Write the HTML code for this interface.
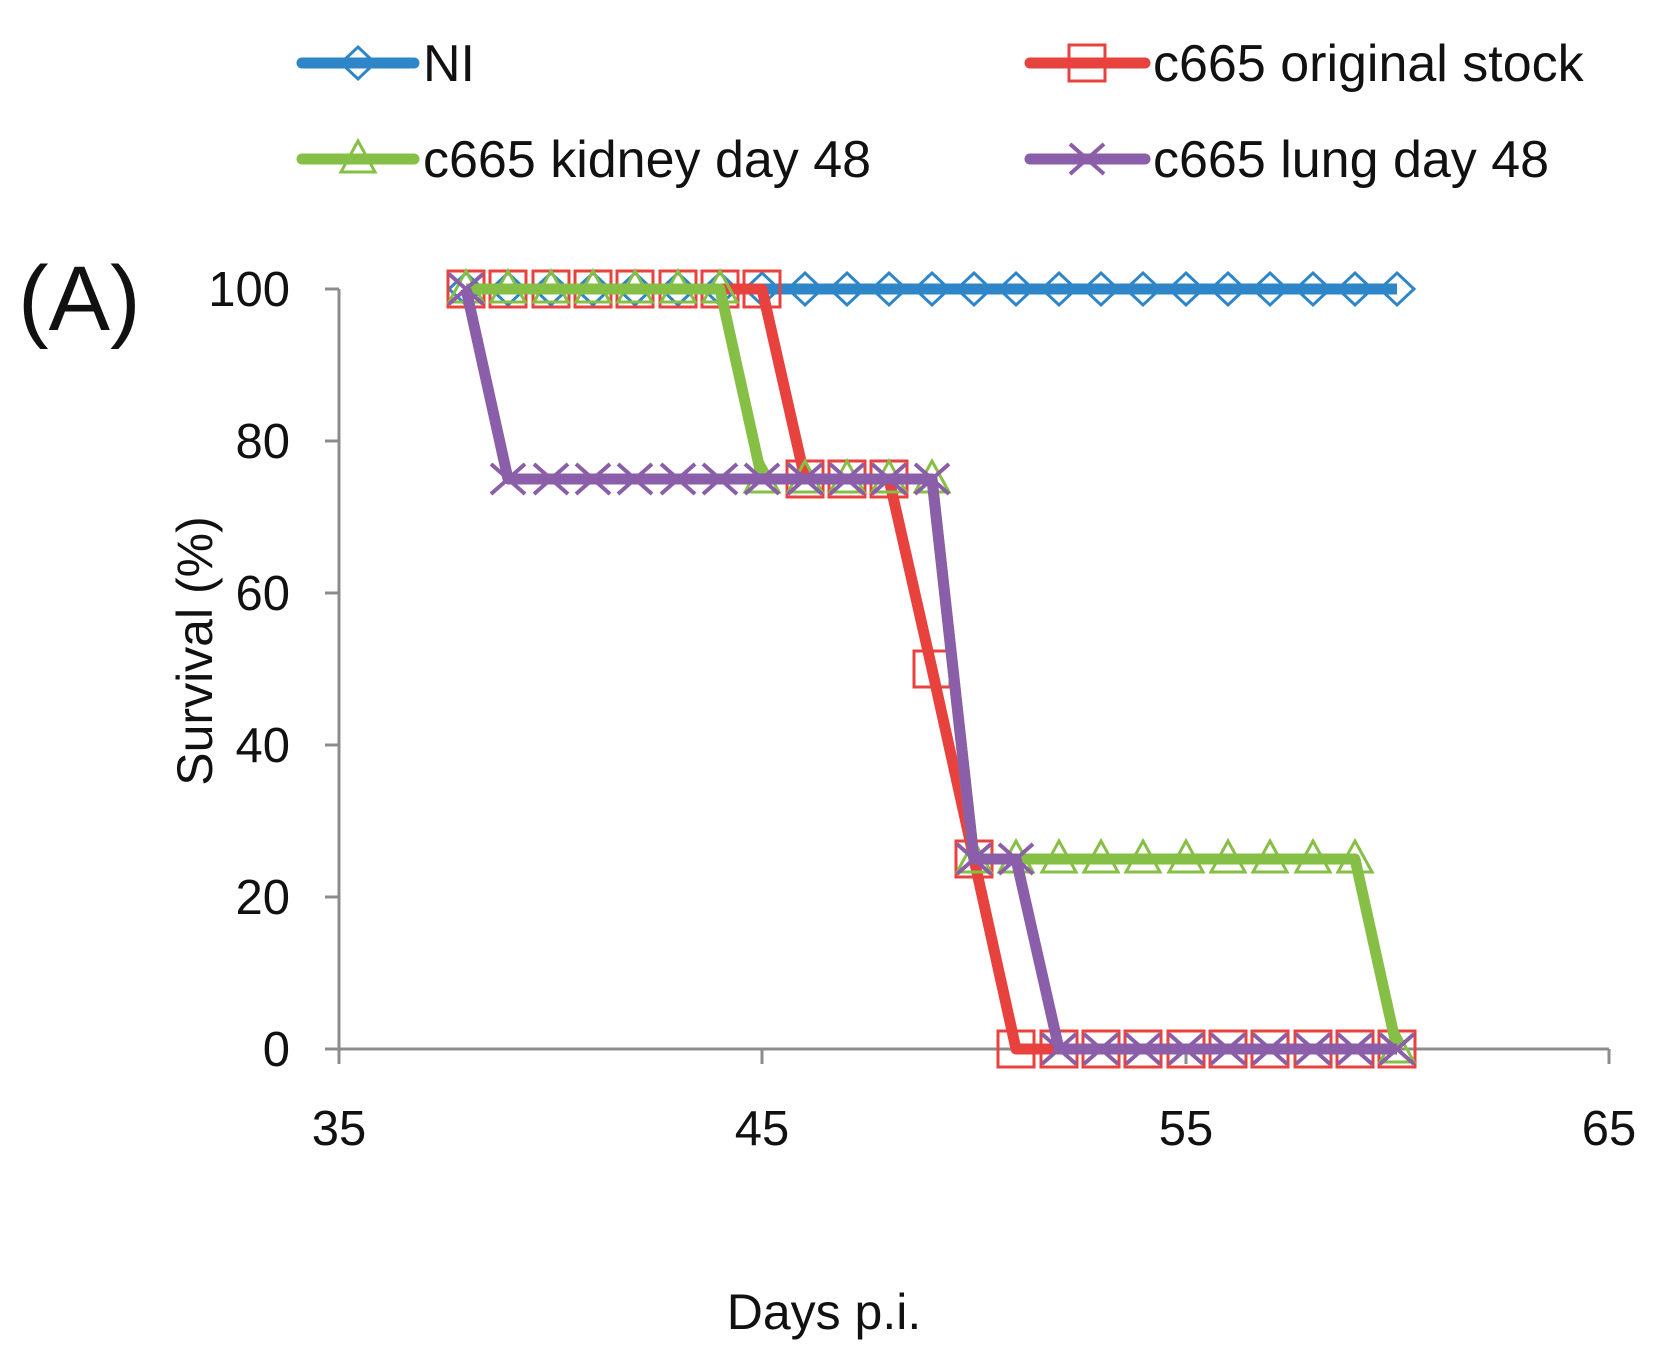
<!DOCTYPE html>
<html><head><meta charset="utf-8"><style>body{margin:0;background:#fff}svg{display:block}text{font-family:"Liberation Sans",sans-serif;fill:#111}</style></head><body>
<svg width="1669" height="1351" viewBox="0 0 1669 1351" xmlns="http://www.w3.org/2000/svg">
<defs>
<path id="dm" d="M0,-16 L17,0 L0,16 L-17,0 Z" fill="none" stroke="#2e86c8" stroke-width="3"/>
<rect id="sq" x="-18" y="-18" width="36" height="36" fill="none" stroke="#e8423f" stroke-width="3"/>
<path id="tr" d="M0,-18 L17,13 L-17,13 Z" fill="none" stroke="#86bf45" stroke-width="3"/>
<path id="xx" d="M-17,-15 L17,15 M-17,15 L17,-15" fill="none" stroke="#8a5ea8" stroke-width="4"/>
</defs>
<g stroke="#8c8c8c" stroke-width="3" fill="none">
<path d="M339,289 V1049 H1609"/>
<path d="M325,289 H339 M325,441 H339 M325,593 H339 M325,745 H339 M325,897 H339 M325,1049 H339"/>
<path d="M339,1049 V1064 M762,1049 V1064 M1186,1049 V1064 M1609,1049 V1064"/>
</g>
<g font-size="49" text-anchor="end">
<text x="290" y="306">100</text><text x="290" y="458">80</text><text x="290" y="610">60</text><text x="290" y="762">40</text><text x="290" y="914">20</text><text x="290" y="1066">0</text>
</g>
<g font-size="49" text-anchor="middle">
<text x="339" y="1145">35</text><text x="762" y="1145">45</text><text x="1186" y="1145">55</text><text x="1609" y="1145">65</text>
</g>
<text x="824" y="1329" font-size="50" text-anchor="middle">Days p.i.</text>
<text transform="translate(212,651) rotate(-90)" font-size="50" text-anchor="middle">Survival (%)</text>
<text x="18" y="330" font-size="92">(A)</text>
<g stroke-width="11" fill="none" stroke-linecap="round">
<path d="M302,63 H414" stroke="#2e86c8"/>
<path d="M1030,63 H1145" stroke="#e8423f"/>
<path d="M302,159 H414" stroke="#86bf45"/>
<path d="M1030,159 H1145" stroke="#8a5ea8"/>
</g>
<use href="#dm" x="358" y="63"/><use href="#sq" x="1087" y="63"/><use href="#tr" x="358" y="159"/><use href="#xx" x="1087" y="159"/>
<g font-size="52"><text x="423" y="81">NI</text><text x="1153" y="81">c665 original stock</text><text x="423" y="177">c665 kidney day 48</text><text x="1153" y="177">c665 lung day 48</text></g>
<path d="M466,289 H1397" stroke="#2e86c8" stroke-width="11" fill="none"/>
<g>
<use href="#dm" x="466" y="289"/><use href="#dm" x="508" y="289"/><use href="#dm" x="551" y="289"/><use href="#dm" x="593" y="289"/><use href="#dm" x="635" y="289"/><use href="#dm" x="678" y="289"/><use href="#dm" x="720" y="289"/><use href="#dm" x="762" y="289"/><use href="#dm" x="805" y="289"/><use href="#dm" x="847" y="289"/><use href="#dm" x="889" y="289"/><use href="#dm" x="932" y="289"/><use href="#dm" x="974" y="289"/><use href="#dm" x="1016" y="289"/><use href="#dm" x="1059" y="289"/><use href="#dm" x="1101" y="289"/><use href="#dm" x="1143" y="289"/><use href="#dm" x="1186" y="289"/><use href="#dm" x="1228" y="289"/><use href="#dm" x="1270" y="289"/><use href="#dm" x="1313" y="289"/><use href="#dm" x="1355" y="289"/><use href="#dm" x="1397" y="289"/>
</g>
<polyline points="466,289 762,289 805,479 889,479 932,669 974,859 1016,1049 1397,1049" stroke="#e8423f" stroke-width="11" fill="none" stroke-linejoin="round"/>
<g>
<use href="#sq" x="466" y="289"/><use href="#sq" x="508" y="289"/><use href="#sq" x="551" y="289"/><use href="#sq" x="593" y="289"/><use href="#sq" x="635" y="289"/><use href="#sq" x="678" y="289"/><use href="#sq" x="720" y="289"/><use href="#sq" x="762" y="289"/><use href="#sq" x="805" y="479"/><use href="#sq" x="847" y="479"/><use href="#sq" x="889" y="479"/><use href="#sq" x="932" y="669"/><use href="#sq" x="974" y="859"/><use href="#sq" x="1016" y="1049"/><use href="#sq" x="1059" y="1049"/><use href="#sq" x="1101" y="1049"/><use href="#sq" x="1143" y="1049"/><use href="#sq" x="1186" y="1049"/><use href="#sq" x="1228" y="1049"/><use href="#sq" x="1270" y="1049"/><use href="#sq" x="1313" y="1049"/><use href="#sq" x="1355" y="1049"/><use href="#sq" x="1397" y="1049"/>
</g>
<polyline points="466,289 720,289 762,479 932,479 974,859 1355,859 1397,1049" stroke="#86bf45" stroke-width="11" fill="none" stroke-linejoin="round"/>
<g>
<use href="#tr" x="466" y="289"/><use href="#tr" x="508" y="289"/><use href="#tr" x="551" y="289"/><use href="#tr" x="593" y="289"/><use href="#tr" x="635" y="289"/><use href="#tr" x="678" y="289"/><use href="#tr" x="720" y="289"/><use href="#tr" x="762" y="479"/><use href="#tr" x="805" y="479"/><use href="#tr" x="847" y="479"/><use href="#tr" x="889" y="479"/><use href="#tr" x="932" y="479"/><use href="#tr" x="974" y="859"/><use href="#tr" x="1016" y="859"/><use href="#tr" x="1059" y="859"/><use href="#tr" x="1101" y="859"/><use href="#tr" x="1143" y="859"/><use href="#tr" x="1186" y="859"/><use href="#tr" x="1228" y="859"/><use href="#tr" x="1270" y="859"/><use href="#tr" x="1313" y="859"/><use href="#tr" x="1355" y="859"/><use href="#tr" x="1397" y="1049"/>
</g>
<polyline points="466,289 508,479 932,479 974,859 1016,859 1059,1049 1397,1049" stroke="#8a5ea8" stroke-width="11" fill="none" stroke-linejoin="round"/>
<g>
<use href="#xx" x="466" y="289"/><use href="#xx" x="508" y="479"/><use href="#xx" x="551" y="479"/><use href="#xx" x="593" y="479"/><use href="#xx" x="635" y="479"/><use href="#xx" x="678" y="479"/><use href="#xx" x="720" y="479"/><use href="#xx" x="762" y="479"/><use href="#xx" x="805" y="479"/><use href="#xx" x="847" y="479"/><use href="#xx" x="889" y="479"/><use href="#xx" x="932" y="479"/><use href="#xx" x="974" y="859"/><use href="#xx" x="1016" y="859"/><use href="#xx" x="1059" y="1049"/><use href="#xx" x="1101" y="1049"/><use href="#xx" x="1143" y="1049"/><use href="#xx" x="1186" y="1049"/><use href="#xx" x="1228" y="1049"/><use href="#xx" x="1270" y="1049"/><use href="#xx" x="1313" y="1049"/><use href="#xx" x="1355" y="1049"/><use href="#xx" x="1397" y="1049"/>
</g>
</svg>
</body></html>
